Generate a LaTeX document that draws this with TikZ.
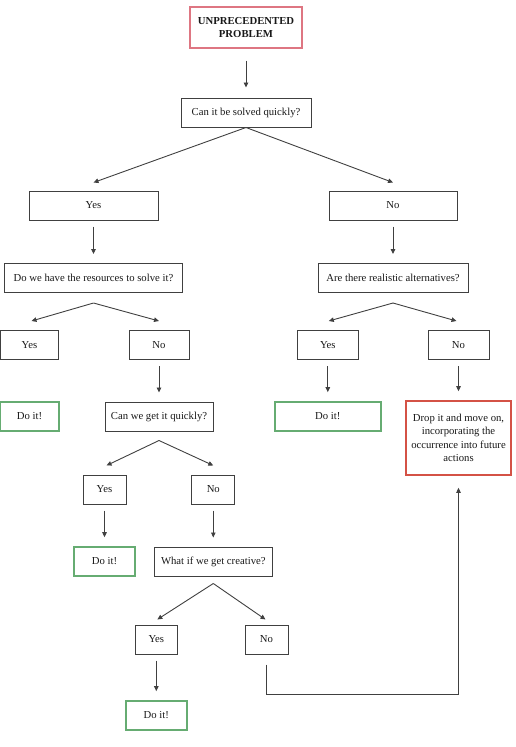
\documentclass[tikz,border=0pt]{standalone}
\usepackage{fontspec}
\setmainfont{Liberation Serif}
\usepackage{tikz}
\usetikzlibrary{arrows.meta,calc}

\definecolor{startpink}{RGB}{222,118,130}
\definecolor{okgreen}{RGB}{102,172,114}
\definecolor{stopred}{RGB}{212,82,70}

\begin{document}
\begin{tikzpicture}[
    x=1pt, y=-1pt,
    >={Triangle[length=5pt,width=4.5pt]},
    box/.style={
        rectangle, draw=black!75, line width=1pt,
        minimum height=29pt, inner sep=2pt,
        align=center, text=black!90,
        font=\fontsize{10.7}{13.4}\selectfont
    },
    startbox/.style={box, draw=startpink, line width=1.2pt, font=\fontsize{10.7}{13.4}\selectfont\bfseries},
    okbox/.style={box, draw=okgreen, line width=1.6pt},
    stopbox/.style={box, draw=stopred, line width=1.6pt},
    arr/.style={->, line width=0.9pt, color=black!75},
    down/.style={arr, shorten <=6pt, shorten >=9pt}
]
    \useasboundingbox (0,0) rectangle (516,747);

    \node[startbox, minimum width=112pt, minimum height=41pt] (start) at (246,27.5) {UNPRECEDENTED\\PROBLEM};
    \node[box, minimum width=130pt] (q1) at (246,112.5) {Can it be solved quickly?};

    \node[box, minimum width=129pt] (yes1) at (93.5,205.5) {Yes};
    \node[box, minimum width=128pt] (no1) at (393,205.5) {No};
    \node[box, minimum width=178pt] (q2) at (93.5,278) {Do we have the resources to solve it?};
    \node[box, minimum width=150pt] (q2r) at (393,278) {Are there realistic alternatives?};

    \node[box, minimum width=58pt] (yes2) at (29.5,345) {Yes};
    \node[box, minimum width=60pt] (no2) at (159,345) {No};
    \node[box, minimum width=61pt] (yes2r) at (327.8,345) {Yes};
    \node[box, minimum width=61pt] (no2r) at (458.5,345) {No};

    \node[okbox, minimum width=59pt] (do1) at (29.5,416.5) {Do it!};
    \node[box, minimum width=108pt] (q3) at (159,416.5) {Can we get it quickly?};
    \node[okbox, minimum width=106pt] (do2) at (327.8,416.5) {Do it!};
    \node[stopbox, minimum width=105pt, minimum height=74pt] (drop) at (458.5,438) {Drop it and move on,\\incorporating the\\occurrence into future\\actions};

    \node[box, minimum width=43pt] (yes3) at (104.5,489.5) {Yes};
    \node[box, minimum width=43pt] (no3) at (213.3,489.5) {No};
    \node[okbox, minimum width=61pt] (do3) at (104.5,561.5) {Do it!};
    \node[box, minimum width=118pt] (q4) at (213.3,561.5) {What if we get creative?};

    \node[box, minimum width=42pt] (yes4) at (156.3,639.5) {Yes};
    \node[box, minimum width=43pt] (no4) at (266.5,639.5) {No};
    \node[okbox, minimum width=61pt] (do4) at (156.3,715.5) {Do it!};

    % straight drops
    \draw[arr, shorten <=12pt, shorten >=10pt] (start) -- (q1);
    \draw[down] (yes1) -- (q2);
    \draw[down] (no1) -- (q2r);
    \draw[down] (no2) -- (q3);
    \draw[down] (yes2r) -- (do2);
    \draw[down] (no2r) -- (drop);
    \draw[down] (yes3) -- (do3);
    \draw[down] (no3) -- (q4);
    \draw[down] (yes4) -- (do4);

    % splits
    \draw[arr] (q1.south) -- ($(yes1.north)+(0,-8)$);
    \draw[arr] (q1.south) -- ($(no1.north)+(0,-8)$);
    \coordinate (q2fork) at ($(q2.south)+(0,10)$);
    \draw[arr] (q2fork) -- ($(yes2.north)+(2,-9)$);
    \draw[arr] (q2fork) -- ($(no2.north)+(0,-9)$);
    \coordinate (q2rfork) at ($(q2r.south)+(0,10)$);
    \draw[arr] (q2rfork) -- ($(yes2r.north)+(1,-9)$);
    \draw[arr] (q2rfork) -- ($(no2r.north)+(-2,-9)$);
    \coordinate (q3fork) at ($(q3.south)+(0,9)$);
    \draw[arr] (q3fork) -- ($(yes3.north)+(2,-9)$);
    \draw[arr] (q3fork) -- ($(no3.north)+(0,-9)$);
    \coordinate (q4fork) at ($(q4.south)+(0,7)$);
    \draw[arr] (q4fork) -- ($(yes4.north)+(1,-5)$);
    \draw[arr] (q4fork) -- ($(no4.north)+(-1,-5)$);

    % creative "No" back to the red box
    \coordinate (loop) at (266.5,694);
    \draw[arr, shorten <=10pt, shorten >=12pt] (no4.south) -- (loop) -| (drop.south);
\end{tikzpicture}
\end{document}
